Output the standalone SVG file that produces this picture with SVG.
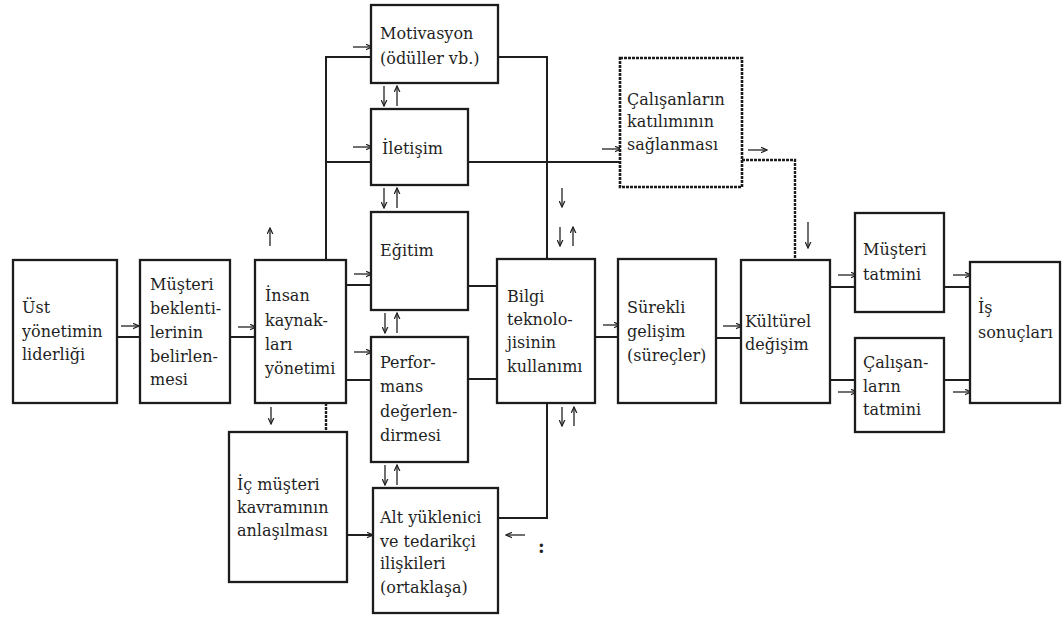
<svg xmlns="http://www.w3.org/2000/svg" width="1063" height="619" viewBox="0 0 1063 619">
  <defs>
    <marker id="head" viewBox="0 0 8 8" refX="7" refY="4" markerWidth="7" markerHeight="7" markerUnits="userSpaceOnUse" orient="auto">
      <path d="M0,0.8 L7,4 L0,7.2" fill="none" stroke="#222" stroke-width="1.4"/>
    </marker>
    <style>
      .box { fill: #fff; stroke: #1c1c1c; stroke-width: 2.3; }
      .dash { stroke-dasharray: 3 1; stroke-width: 2.6; }
      .lbl { font-family: "DejaVu Serif", "Liberation Serif", serif; font-size: 16px; fill: #1f1f1f; }
      .wire { fill: none; stroke: #1e1e1e; stroke-width: 2; }
      .dot { stroke-dasharray: 3 1; stroke-width: 2.4; }
      .arr { fill: none; stroke: #222; stroke-width: 1.3; marker-end: url(#head); }
    </style>
  </defs>
  <rect width="1063" height="619" fill="#fff"/>

  <!-- connectors -->
  <g id="connectors">
    <path class="wire" d="M117,337 H140"/>
    <path class="wire" d="M230,337 H255"/>
    <path class="wire" d="M326,260 V57 H371"/>
    <path class="wire" d="M326,162 H371"/>
    <path class="wire" d="M346,285 H371"/>
    <path class="wire" d="M346,380 H371"/>
    <path class="wire dot" d="M326,403 V432"/>
    <path class="wire" d="M347,535 H373"/>
    <path class="wire" d="M498,57 H547 V259"/>
    <path class="wire" d="M468,162 H620"/>
    <path class="wire" d="M468,286 H497"/>
    <path class="wire" d="M468,379 H497"/>
    <path class="wire" d="M547,403 V518 H498"/>
    <path class="wire" d="M595,337 H618"/>
    <path class="wire" d="M716,338 H741"/>
    <path class="wire dot" d="M742,160 H795 V260"/>
    <path class="wire" d="M830,287 H855"/>
    <path class="wire" d="M830,380 H855"/>
    <path class="wire" d="M944,287 H970"/>
    <path class="wire" d="M944,380 H970"/>

    <!-- small direction arrows -->
    <path class="arr" d="M121,326 H139"/>
    <path class="arr" d="M238,327 H256"/>
    <path class="arr" d="M353,47 H372"/>
    <path class="arr" d="M353,147 H372"/>
    <path class="arr" d="M354,274 H372"/>
    <path class="arr" d="M354,352 H372"/>
    <path class="arr" d="M353,535 H373"/>
    <path class="arr" d="M602,149 H621"/>
    <path class="arr" d="M748,150 H767"/>
    <path class="arr" d="M603,325 H620"/>
    <path class="arr" d="M723,326 H742"/>
    <path class="arr" d="M838,275 H857"/>
    <path class="arr" d="M838,392 H857"/>
    <path class="arr" d="M953,275 H971"/>
    <path class="arr" d="M953,392 H971"/>
    <path class="arr" d="M525,535 H506"/>

    <path class="arr" d="M270,246 V228"/>
    <path class="arr" d="M271,407 V424"/>
    <path class="arr" d="M808,222 V248"/>
    <path class="arr" d="M562,188 V207"/>
    <path class="arr" d="M560,227 V246"/>
    <path class="arr" d="M573,246 V227"/>
    <path class="arr" d="M562,407 V426"/>
    <path class="arr" d="M574,426 V407"/>

    <path class="arr" d="M384,86 V106"/>
    <path class="arr" d="M397,106 V86"/>
    <path class="arr" d="M384,188 V208"/>
    <path class="arr" d="M397,208 V188"/>
    <path class="arr" d="M385,313 V333"/>
    <path class="arr" d="M397,333 V313"/>
    <path class="arr" d="M385,465 V485"/>
    <path class="arr" d="M397,485 V465"/>

    <text x="538" y="553" font-family="DejaVu Serif, serif" font-size="18" font-weight="bold" fill="#222">:</text>
  </g>

  <!-- nodes -->
  <g id="ust-yonetim">
    <rect class="box" x="13" y="260" width="104" height="143"/>
    <text class="lbl"><tspan x="22" y="313">Üst</tspan><tspan x="22" y="337">yönetimin</tspan><tspan x="22" y="360">liderliği</tspan></text>
  </g>
  <g id="musteri-beklentileri">
    <rect class="box" x="140" y="260" width="90" height="143"/>
    <text class="lbl"><tspan x="150" y="290">Müşteri</tspan><tspan x="150" y="314">beklenti-</tspan><tspan x="150" y="338">lerinin</tspan><tspan x="150" y="362">belirlen-</tspan><tspan x="150" y="385">mesi</tspan></text>
  </g>
  <g id="insan-kaynaklari">
    <rect class="box" x="255" y="260" width="91" height="143"/>
    <text class="lbl"><tspan x="265" y="301">İnsan</tspan><tspan x="265" y="326">kaynak-</tspan><tspan x="265" y="350">ları</tspan><tspan x="265" y="374">yönetimi</tspan></text>
  </g>
  <g id="motivasyon">
    <rect class="box" x="371" y="5" width="127" height="78"/>
    <text class="lbl"><tspan x="380" y="39">Motivasyon</tspan><tspan x="380" y="64">(ödüller vb.)</tspan></text>
  </g>
  <g id="iletisim">
    <rect class="box" x="371" y="109" width="97" height="76"/>
    <text class="lbl"><tspan x="382" y="154">İletişim</tspan></text>
  </g>
  <g id="egitim">
    <rect class="box" x="371" y="212" width="97" height="98"/>
    <text class="lbl"><tspan x="380" y="256">Eğitim</tspan></text>
  </g>
  <g id="performans">
    <rect class="box" x="371" y="337" width="97" height="125"/>
    <text class="lbl"><tspan x="380" y="368">Perfor-</tspan><tspan x="380" y="392">mans</tspan><tspan x="380" y="417">değerlen-</tspan><tspan x="380" y="441">dirmesi</tspan></text>
  </g>
  <g id="alt-yuklenici">
    <rect class="box" x="373" y="488" width="125" height="125"/>
    <text class="lbl"><tspan x="380" y="523">Alt yüklenici</tspan><tspan x="380" y="547">ve tedarikçi</tspan><tspan x="380" y="569">ilişkileri</tspan><tspan x="380" y="593">(ortaklaşa)</tspan></text>
  </g>
  <g id="ic-musteri">
    <rect class="box" x="229" y="432" width="118" height="150"/>
    <text class="lbl"><tspan x="237" y="490">İç müşteri</tspan><tspan x="237" y="513">kavramının</tspan><tspan x="237" y="536">anlaşılması</tspan></text>
  </g>
  <g id="bilgi-teknolojisi">
    <rect class="box" x="497" y="259" width="98" height="144"/>
    <text class="lbl"><tspan x="507" y="302">Bilgi</tspan><tspan x="507" y="325">teknolo-</tspan><tspan x="507" y="348">jisinin</tspan><tspan x="507" y="372">kullanımı</tspan></text>
  </g>
  <g id="surekli-gelisim">
    <rect class="box" x="618" y="259" width="98" height="144"/>
    <text class="lbl"><tspan x="627" y="313">Sürekli</tspan><tspan x="627" y="337">gelişim</tspan><tspan x="627" y="361">(süreçler)</tspan></text>
  </g>
  <g id="calisan-katilimi">
    <rect class="box dash" x="620" y="58" width="122" height="129"/>
    <text class="lbl"><tspan x="627" y="105">Çalışanların</tspan><tspan x="627" y="127">katılımının</tspan><tspan x="627" y="150">sağlanması</tspan></text>
  </g>
  <g id="kulturel-degisim">
    <rect class="box" x="741" y="260" width="89" height="143"/>
    <text class="lbl"><tspan x="745" y="327">Kültürel</tspan><tspan x="745" y="350">değişim</tspan></text>
  </g>
  <g id="musteri-tatmini">
    <rect class="box" x="855" y="213" width="89" height="99"/>
    <text class="lbl"><tspan x="863" y="255">Müşteri</tspan><tspan x="863" y="280">tatmini</tspan></text>
  </g>
  <g id="calisan-tatmini">
    <rect class="box" x="855" y="338" width="89" height="94"/>
    <text class="lbl"><tspan x="863" y="368">Çalışan-</tspan><tspan x="863" y="392">ların</tspan><tspan x="863" y="415">tatmini</tspan></text>
  </g>
  <g id="is-sonuclari">
    <rect class="box" x="970" y="262" width="90" height="141"/>
    <text class="lbl"><tspan x="978" y="313">İş</tspan><tspan x="978" y="338">sonuçları</tspan></text>
  </g>
</svg>
